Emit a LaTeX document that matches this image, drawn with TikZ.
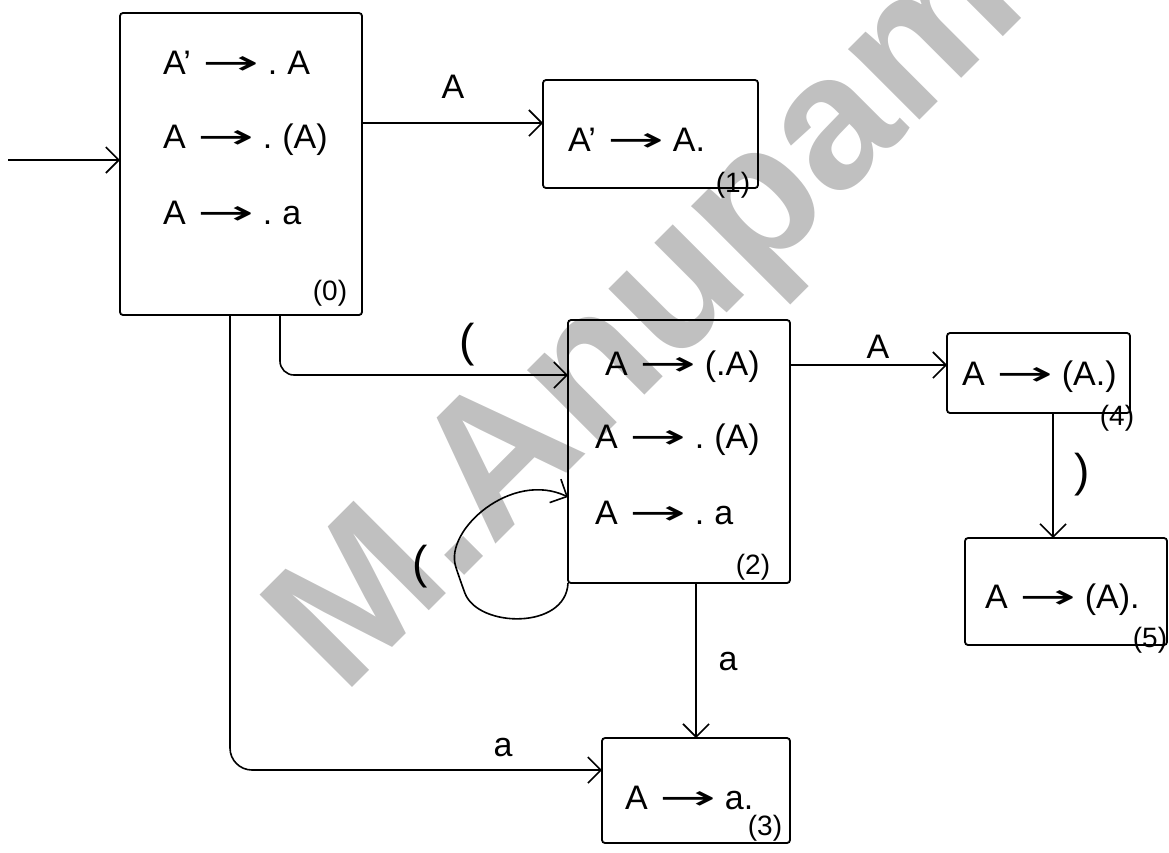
\documentclass[tikz,border=0pt]{standalone}
\usepackage{fontspec}
\usepackage{graphicx}
\setmainfont{Liberation Sans}
\newfontfamily\arrfont{DejaVu Sans}
\usetikzlibrary{arrows.meta}
\definecolor{wmgray}{RGB}{192,192,192}
\newcommand\myar{\hspace{12pt}{\arrfont\scalebox{2}[1]{→}}\hspace{8pt}}
\begin{document}
\begin{tikzpicture}[x=1pt,y=-1pt,
  box/.style={draw, line width=1.8pt, rounded corners=3pt, inner sep=0pt, outer sep=0pt},
  itm/.style={anchor=west, font=\fontsize{34}{36}\selectfont, inner sep=0pt},
  snum/.style={font=\fontsize{28}{30}\selectfont, inner sep=0pt},
  lbl/.style={font=\fontsize{34}{36}\selectfont, inner sep=0pt},
  plbl/.style={font=\fontsize{46}{48}\selectfont, inner sep=0pt},
  arr/.style={line width=1.6pt, -{Straight Barb[length=13pt,width=26pt,line width=1.6pt]}, rounded corners=14pt},
  wm/.style={text=wmgray, font=\fontsize{190}{190}\selectfont\bfseries, inner sep=0pt}
]
\clip (0,0) rectangle (1169,852);
% watermark
\node[wm, rotate=45, anchor=base west] (wmk) at (343,697) {M.Anupama};
% states
\node[box, minimum width=242pt, minimum height=302pt] (s0) at (241,164) {};
\node[box, minimum width=215pt, minimum height=108pt] (s1) at (650.5,134) {};
\node[box, minimum width=222pt, minimum height=263pt] (s2) at (679,451.5) {};
\node[box, minimum width=188pt, minimum height=105pt] (s3) at (696,790.5) {};
\node[box, minimum width=183pt, minimum height=80pt] (s4) at (1038.5,373) {};
\node[box, minimum width=202pt, minimum height=107pt] (s5) at (1066,591.5) {};
% items
\node[itm] (i01) at (163,63) {A'\myar.\hspace{10pt}A};
\node[itm] (i02) at (163,140) {A\myar.\hspace{10pt}(A)};
\node[itm] (i03) at (163,213) {A\myar.\hspace{10pt}a};
\node[snum] (n0) at (330,293) {(0)};
\node[itm] (i11) at (568,140) {A'\myar A.};
\node[snum] (n1) at (733,185) {(1)};
\node[itm] (i21) at (605,367) {A\myar(.A)};
\node[itm] (i22) at (595,440) {A\myar.\hspace{10pt}(A)};
\node[itm] (i23) at (595,513) {A\myar.\hspace{10pt}a};
\node[snum] (n2) at (753,567) {(2)};
\node[itm] (i31) at (625,798) {A\myar a.};
\node[snum] (n3) at (765,828) {(3)};
\node[itm] (i41) at (962,377) {A\myar(A.)};
\node[snum] (n4) at (1117,418) {(4)};
\node[itm] (i51) at (985,600) {A\myar(A).};
\node[snum] (n5) at (1150,640) {(5)};
% helper coordinates
\coordinate (st) at (8,160);
\coordinate (y01) at (0,123);
\coordinate (c02) at (280,375);
\coordinate (c03) at (230,770);
\coordinate (y24) at (0,365);
\coordinate (x45) at (1053,0);
\coordinate (x23) at (696,0);
\coordinate (y22) at (0,497);
% transitions
\draw[arr] (st) -- (s0.west |- st);
\draw[arr] (s0.east |- y01) -- (s1.west |- y01);
\node[lbl] (l01) at (453,87) {A};
\draw[arr] (s0.south -| c02) -- (c02) -- (s2.west |- c02);
\node[plbl] (l02) at (467,345) {(};
\draw[arr, rounded corners=22pt] (s0.south -| c03) -- (c03) -- (s3.west |- c03);
\node[lbl] (l03) at (503,748) {a};
\draw[arr] (s2.east |- y24) -- (s4.west |- y24);
\node[lbl] (l24) at (878,347) {A};
\draw[arr] (s4.south -| x45) -- (s5.north -| x45);
\node[plbl] (l45) at (1082,475) {)};
\draw[arr] (s2.south -| x23) -- (s3.north -| x23);
\node[lbl] (l23) at (728,662) {a};
\draw[arr] (s2.south west) .. controls (566,630) and (478,628) .. (460,580)
  .. controls (444,530) and (512,470) .. (s2.west |- y22);
\node[plbl] (l22) at (420,567) {(};
\end{tikzpicture}
\end{document}
